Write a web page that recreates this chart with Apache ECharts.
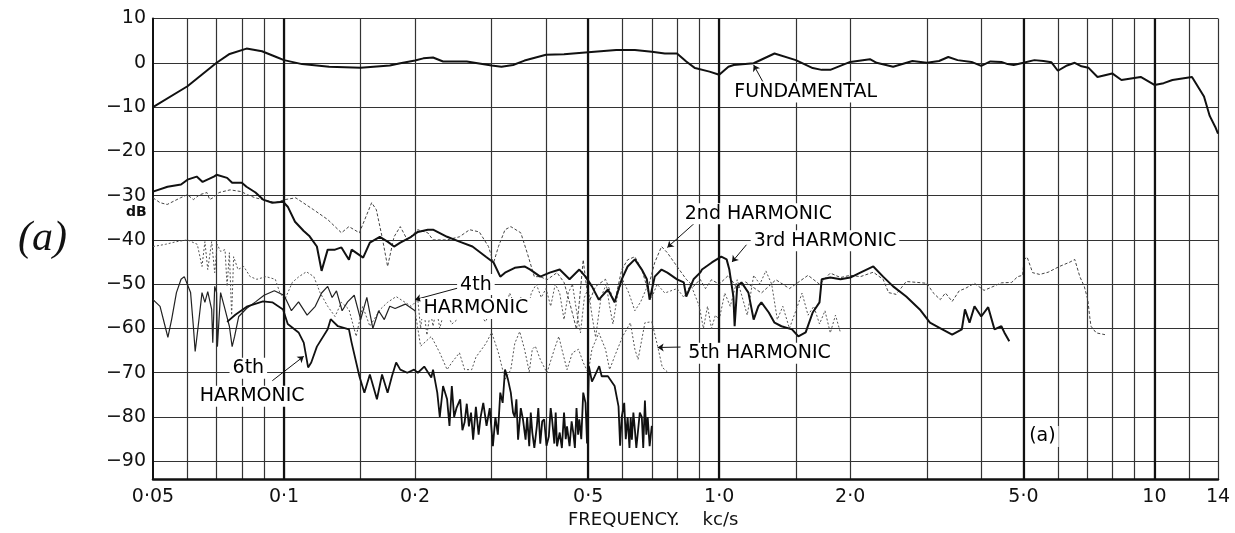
<!DOCTYPE html>
<html>
<head>
<meta charset="utf-8">
<script src="https://cdn.jsdelivr.net/npm/echarts@6/dist/echarts.min.js"></script>
<style>
html,body{margin:0;padding:0;background:#fff;}
#chart{width:1235px;height:533px;}
</style>
</head>
<body>
<div id="chart"></div>
<script>
// ---------- axis ticks ----------
const freqGrid = [0.06,0.07,0.08,0.09,0.1,0.15,0.2,0.3,0.4,0.5,0.6,0.7,0.8,0.9,1,1.5,2,3,4,5,6,7,8,9,10,12,14];
const freqHeavy = [0.1,0.5,1,5,10];
const freqLabels = [0.05,0.1,0.2,0.5,1,2,5,10,14];
const freqLabelText = ['0·05','0·1','0·2','0·5','1·0','2·0','5·0','10','14'];
const dbTicks = [10,0,-10,-20,-30,-40,-50,-60,-70,-80,-90];
const dbLabelText = ['10','0','−10','−20','−30','−40','−50','−60','−70','−80','−90'];

// ---------- series: [frequency kc/s, dB] ----------
const fundamental = [[0.05,-10],[0.06,-5.3],[0.07,0],[0.075,2],[0.082,3.2],[0.089,2.6],[0.096,1.3],[0.1,0.6],[0.11,-0.3],[0.127,-0.9],[0.15,-1.1],[0.175,-0.6],[0.185,-0.1],[0.2,0.5],[0.209,1],[0.22,1.2],[0.232,0.3],[0.263,0.3],[0.3,-0.6],[0.316,-0.9],[0.336,-0.5],[0.357,0.5],[0.4,1.8],[0.44,1.9],[0.5,2.4],[0.58,2.9],[0.64,2.9],[0.7,2.5],[0.75,2.1],[0.8,2.1],[0.84,0.3],[0.88,-1.2],[0.95,-2],[1.0,-2.7],[1.05,-0.9],[1.08,-0.5],[1.2,-0.1],[1.34,2.1],[1.5,0.6],[1.64,-1.2],[1.72,-1.6],[1.8,-1.6],[2.0,0.2],[2.22,0.8],[2.3,0],[2.51,-0.9],[2.78,0.4],[3.0,0],[3.2,0.4],[3.36,1.3],[3.53,0.6],[3.8,0.2],[4.0,-0.7],[4.2,0.3],[4.45,0.2],[4.6,-0.3],[4.75,-0.5],[5.0,0],[5.3,0.6],[5.56,0.4],[5.8,0.1],[6.0,-1.8],[6.3,-0.6],[6.56,0],[6.8,-0.8],[7.05,-1.1],[7.4,-3.2],[8.0,-2.4],[8.4,-3.9],[9.3,-3.2],[10,-5],[10.5,-4.6],[11,-3.9],[12.2,-3.2],[13,-7.6],[13.4,-12],[13.8,-14.5],[14,-16]];

const harmonic2 = [[0.05,-30.5],[0.0519,-31.6],[0.0539,-32],[0.0578,-30.5],[0.06,-29.8],[0.0619,-30.9],[0.064,-29.8],[0.0665,-29.3],[0.0675,-30.9],[0.0686,-30.5],[0.0709,-29.3],[0.0752,-28.7],[0.0798,-29.1],[0.0824,-29.8],[0.0859,-30.5],[0.0895,-30.9],[0.0955,-31.6],[0.1005,-30.9],[0.1064,-30.5],[0.117,-33.2],[0.126,-35.4],[0.1355,-38.4],[0.141,-37],[0.149,-38.4],[0.159,-31.6],[0.163,-33.2],[0.168,-39.3],[0.173,-46],[0.179,-39.3],[0.185,-37],[0.192,-40],[0.203,-37.7],[0.214,-38.4],[0.22,-40],[0.237,-40],[0.253,-39.3],[0.267,-37.7],[0.281,-38.2],[0.295,-41.5],[0.303,-45.2],[0.311,-41.5],[0.322,-37.7],[0.332,-37],[0.35,-38.4],[0.362,-42.9],[0.376,-48.3],[0.388,-48.3],[0.402,-49],[0.424,-47.4],[0.44,-49.6],[0.453,-54.1],[0.462,-57.3],[0.47,-60.2],[0.477,-54.1],[0.487,-44.5],[0.493,-48.9],[0.502,-54.1],[0.52,-50.5],[0.548,-48.9],[0.575,-54.1],[0.597,-46.7],[0.616,-44.5],[0.64,-43.8],[0.664,-46.7],[0.685,-51.2],[0.711,-45.1],[0.737,-41.5],[0.76,-42.9],[0.8,-46],[0.84,-48.9],[0.873,-50.5],[0.904,-48.9],[0.93,-51],[0.96,-49],[1.0,-50],[1.05,-48],[1.1,-51],[1.15,-49.5],[1.25,-52],[1.35,-49],[1.45,-51],[1.6,-48],[1.7,-50],[1.8,-47.5],[1.9,-48.5],[2.0,-48],[2.11,-48.3],[2.26,-47.3],[2.38,-48.9],[2.45,-51.9],[2.55,-52.3],[2.69,-49.4],[2.85,-49.6],[3.0,-49.8],[3.1,-51.9],[3.22,-53.5],[3.31,-52],[3.43,-53.9],[3.56,-51.5],[3.67,-51],[3.86,-49.8],[4.06,-51.4],[4.2,-50.8],[4.45,-49.7],[4.7,-49.6],[4.85,-48.3],[4.98,-48],[5.02,-44.4],[5.1,-43.9],[5.25,-47.4],[5.45,-47.8],[5.7,-47.3],[6.05,-46],[6.4,-45],[6.56,-44.4],[6.74,-48.3],[6.9,-50.5],[7.03,-53.5],[7.1,-57.3],[7.15,-59.5],[7.35,-61],[7.7,-61.4]];

const harmonic3 = [[0.05,-29.1],[0.054,-28],[0.058,-27.5],[0.06,-26.4],[0.063,-25.7],[0.065,-26.9],[0.069,-25.7],[0.07,-25.3],[0.074,-26],[0.076,-27.1],[0.08,-27.1],[0.082,-28],[0.086,-29.3],[0.0895,-30.9],[0.094,-31.6],[0.0995,-31.4],[0.102,-32.5],[0.106,-35.9],[0.111,-38],[0.1145,-39.2],[0.119,-41.5],[0.122,-47],[0.126,-42.2],[0.131,-42.2],[0.1355,-41.7],[0.141,-44.5],[0.143,-42.2],[0.152,-44],[0.1575,-40.6],[0.166,-39.3],[0.173,-40.4],[0.179,-41.5],[0.185,-40.6],[0.196,-39.3],[0.203,-38.2],[0.214,-37.7],[0.22,-37.7],[0.237,-39.3],[0.253,-40.4],[0.271,-41.5],[0.291,-43.8],[0.303,-45.1],[0.314,-48.3],[0.322,-47.4],[0.339,-46.3],[0.357,-46],[0.368,-46.7],[0.388,-48.3],[0.408,-47.4],[0.43,-46.7],[0.453,-48.9],[0.477,-46.7],[0.493,-48.3],[0.51,-50.5],[0.529,-53.5],[0.555,-51.2],[0.575,-54.1],[0.597,-48.9],[0.616,-46],[0.64,-44.4],[0.664,-46.7],[0.682,-48.9],[0.692,-53.5],[0.711,-48.3],[0.737,-46.7],[0.76,-47.4],[0.8,-48.9],[0.829,-49.6],[0.84,-52.8],[0.873,-48.9],[0.904,-47.4],[0.913,-46.7],[0.962,-45.1],[1.011,-43.8],[1.04,-44.4],[1.055,-46.7],[1.078,-52.8],[1.085,-59.5],[1.1,-50.5],[1.125,-49.6],[1.167,-51.9],[1.2,-58],[1.23,-55],[1.25,-54.1],[1.3,-56.4],[1.34,-58.7],[1.39,-59.5],[1.47,-60.2],[1.52,-61.8],[1.58,-60.9],[1.64,-56.4],[1.7,-54.1],[1.72,-48.9],[1.8,-48.5],[1.9,-48.9],[2.0,-48.5],[2.11,-47.4],[2.26,-46],[2.38,-48.3],[2.51,-50.5],[2.69,-52.8],[2.89,-55.7],[3.05,-58.7],[3.2,-59.8],[3.43,-61.4],[3.61,-60.2],[3.67,-55.7],[3.76,-58.7],[3.86,-55],[4.0,-57.3],[4.15,-55.2],[4.29,-60.2],[4.45,-59.5],[4.52,-60.9],[4.64,-62.9]];

const harmonic4 = [[0.05,-41.5],[0.0534,-41],[0.0566,-40.4],[0.06,-40],[0.0632,-41],[0.0648,-46],[0.0658,-40.4],[0.0668,-46.7],[0.0682,-40.4],[0.0693,-47.4],[0.0702,-41],[0.0715,-42.6],[0.0732,-42.2],[0.074,-50.5],[0.0749,-42.9],[0.0758,-57],[0.0766,-43.8],[0.0784,-46.7],[0.0808,-46],[0.0836,-48.3],[0.0866,-48.9],[0.0909,-48.3],[0.0955,-48.9],[0.0978,-51.9],[0.1004,-53.5],[0.1045,-49.6],[0.1082,-48.3],[0.1126,-47.2],[0.1171,-48.3],[0.121,-51.9],[0.126,-55],[0.131,-57.3],[0.1355,-54.1],[0.141,-55.7],[0.1465,-61.8],[0.1516,-55],[0.1575,-59.5],[0.1664,-55.7],[0.173,-54.1],[0.181,-52.8],[0.196,-55],[0.203,-53.5],[0.206,-60],[0.209,-55],[0.213,-61.5],[0.217,-56],[0.22,-59.5],[0.224,-55.5],[0.228,-60],[0.232,-57],[0.237,-56.5],[0.243,-59],[0.25,-58],[0.26,-55],[0.27,-57],[0.28,-56],[0.29,-58.5],[0.3,-56],[0.31,-54],[0.32,-57],[0.33,-52],[0.34,-55],[0.35,-53],[0.36,-58],[0.37,-52],[0.38,-50],[0.39,-53],[0.4,-51],[0.41,-55],[0.42,-50],[0.43,-52],[0.44,-58],[0.45,-52],[0.46,-50],[0.47,-56],[0.48,-61],[0.49,-53],[0.5,-51],[0.51,-57],[0.52,-62],[0.535,-53],[0.55,-50],[0.56,-55],[0.57,-59],[0.585,-52],[0.6,-49],[0.62,-52],[0.64,-56],[0.66,-54],[0.68,-51],[0.7,-53],[0.72,-50],[0.75,-52],[0.8,-51],[0.83,-53],[0.86,-50],[0.9,-55],[0.92,-60],[0.94,-55],[0.96,-60],[0.98,-57],[1.0,-58],[1.03,-52],[1.06,-55],[1.1,-49],[1.13,-53],[1.16,-57],[1.2,-48],[1.24,-50],[1.28,-47],[1.32,-50],[1.36,-58],[1.4,-55],[1.45,-60],[1.5,-56],[1.55,-52],[1.6,-57],[1.65,-55],[1.7,-59],[1.75,-56],[1.8,-61],[1.85,-57],[1.9,-61]];

const harmonic5Low = [[0.05,-53.5],[0.0519,-55],[0.0533,-59.5],[0.0541,-62],[0.0552,-57.9],[0.0566,-51.9],[0.058,-48.9],[0.059,-48.3],[0.061,-51.9],[0.0619,-59.5],[0.0625,-65.2],[0.0635,-59.5],[0.0648,-51.9],[0.0658,-54.1],[0.0668,-51.7],[0.0682,-55.7],[0.0686,-63.2],[0.0693,-50.5],[0.07,-51.9],[0.0703,-64.1],[0.0715,-51.9],[0.0732,-55.7],[0.0749,-59.5],[0.076,-64.1],[0.077,-61.8],[0.0787,-57.3],[0.082,-55.5],[0.086,-54],[0.09,-52.5],[0.095,-51.5],[0.1,-52.5],[0.104,-56],[0.108,-54],[0.113,-57],[0.118,-55],[0.122,-52],[0.126,-50.5],[0.129,-53],[0.132,-51.5],[0.136,-56],[0.14,-54],[0.145,-52.5],[0.15,-58],[0.155,-53],[0.16,-60],[0.165,-56],[0.17,-58],[0.175,-55],[0.18,-55.5],[0.19,-54.5],[0.2,-56]];

const harmonic5High = [[0.2,-56],[0.206,-64],[0.218,-61.8],[0.228,-65.5],[0.237,-69.3],[0.243,-67.7],[0.253,-65.5],[0.26,-69.3],[0.27,-69.3],[0.276,-66.5],[0.291,-63.4],[0.3,-60.9],[0.311,-65.5],[0.322,-71.5],[0.332,-69.3],[0.339,-63.4],[0.348,-60.7],[0.357,-64.7],[0.366,-69.8],[0.372,-64.7],[0.378,-64],[0.388,-67],[0.402,-70],[0.418,-64.7],[0.428,-61.8],[0.435,-64.7],[0.447,-69.3],[0.46,-65.5],[0.475,-64.7],[0.487,-67.7],[0.5,-70],[0.51,-64.7],[0.529,-61],[0.548,-64.7],[0.56,-69.3],[0.575,-66.3],[0.6,-61.8],[0.625,-58.7],[0.64,-64.7],[0.651,-67],[0.675,-58.7],[0.7,-58.5],[0.722,-64],[0.74,-68.8],[0.76,-69.8]];

const harmonic6 = [[0.074,-58.5],[0.0773,-56.9],[0.0824,-55],[0.0895,-53.9],[0.094,-54.1],[0.0995,-55.7],[0.102,-59],[0.108,-60.9],[0.111,-63.2],[0.1136,-68.8],[0.1155,-67.7],[0.119,-64.1],[0.126,-60.2],[0.128,-57.9],[0.133,-59.5],[0.141,-60.2],[0.143,-63.2],[0.149,-70.8],[0.153,-74.5],[0.1575,-70.4],[0.1635,-76],[0.168,-70.4],[0.173,-74.5],[0.177,-70.8],[0.181,-67.7],[0.185,-69.3],[0.192,-70],[0.199,-69.3],[0.203,-70],[0.21,-68.6],[0.218,-71.1],[0.22,-69.3],[0.225,-74.5],[0.228,-80],[0.232,-73],[0.237,-76],[0.24,-82],[0.243,-73],[0.246,-80],[0.249,-78],[0.254,-76],[0.257,-83],[0.26,-81.2],[0.263,-77],[0.266,-82.1],[0.269,-79],[0.272,-85.1],[0.276,-77.7],[0.28,-84],[0.283,-80],[0.287,-76.8],[0.292,-82],[0.297,-78],[0.302,-86.6],[0.306,-80],[0.31,-84],[0.314,-74.5],[0.318,-76.8],[0.322,-69.3],[0.327,-71.5],[0.332,-74.5],[0.336,-79],[0.339,-80],[0.342,-76],[0.345,-85.1],[0.35,-78],[0.354,-80.5],[0.359,-85.1],[0.362,-80],[0.366,-86.6],[0.369,-79],[0.372,-83.5],[0.376,-87],[0.381,-82.1],[0.384,-78],[0.388,-86],[0.392,-81],[0.396,-80.5],[0.401,-86.5],[0.406,-84.4],[0.41,-78],[0.413,-80.5],[0.418,-86],[0.421,-79],[0.424,-86.6],[0.43,-83.5],[0.435,-87],[0.44,-79],[0.444,-85],[0.447,-82.1],[0.453,-86.6],[0.458,-81],[0.462,-83.5],[0.466,-87],[0.47,-78],[0.474,-84],[0.477,-80.5],[0.482,-85],[0.487,-74.5],[0.493,-76.8],[0.497,-86],[0.502,-68.6],[0.51,-72],[0.517,-70.8],[0.53,-68.5],[0.537,-70.8],[0.555,-70.8],[0.575,-73],[0.587,-77.6],[0.592,-86.5],[0.597,-80],[0.605,-76.8],[0.61,-85],[0.616,-80],[0.622,-87],[0.626,-80],[0.63,-85.1],[0.635,-79],[0.64,-82.8],[0.645,-87],[0.651,-86.6],[0.657,-79],[0.664,-80],[0.669,-87],[0.675,-76.3],[0.68,-84],[0.685,-80],[0.692,-86.6],[0.7,-82]];

// ---------- annotations ----------
const noteText = ['FUNDAMENTAL','2nd HARMONIC','3rd HARMONIC','4th','HARMONIC','5th HARMONIC','6th','HARMONIC','(a)'];
const noteFreq = [1.58,1.23,1.75,0.276,0.276,1.238,0.0828,0.0845,5.53];
const noteDb = [-6.6,-34.1,-40.2,-50.1,-55.5,-65.6,-69,-75.3,-84.4];
const leaderFrom = [[1.26,-4.3],[0.885,-35.9],[1.155,-41.1],[0.257,-50.6],[0.815,-64.2],[0.094,-71.8]];
const leaderTo = [[1.2,-0.5],[0.76,-41.7],[1.07,-45],[0.2,-53.5],[0.722,-64.3],[0.111,-66.3]];

const FONT = '"DejaVu Sans", "Liberation Sans", sans-serif';

function nearestLabel(v, vals, txt) {
  let best = 0, bd = Infinity;
  vals.forEach((x, i) => { const d = Math.abs(Math.log(x) - Math.log(v)); if (d < bd) { bd = d; best = i; } });
  return txt[best];
}

function lineSeries(name, data, width, type, color) {
  return {
    name, type: 'line', data, showSymbol: false, symbol: 'none', silent: true,
    lineStyle: { width, type, color }, z: 3, animation: false
  };
}

const chart = echarts.init(document.getElementById('chart'), null, { renderer: 'canvas' });

const option = {
  animation: false,
  backgroundColor: '#fff',
  grid: { left: 153, right: 17, top: 18.5, bottom: 54, containLabel: false },
  xAxis: {
    type: 'log', logBase: 10, min: 0.05, max: 14,
    axisLine: { show: true, onZero: false, lineStyle: { color: '#111', width: 2.5 } },
    axisTick: { show: false, customValues: freqGrid },
    axisLabel: {
      customValues: freqLabels, margin: 9, fontSize: 19, color: '#111', fontFamily: FONT,
      formatter: v => nearestLabel(v, freqLabels, freqLabelText)
    },
    splitLine: { show: true, lineStyle: { color: '#333', width: 1.2 } },
    minorSplitLine: { show: false }
  },
  yAxis: {
    type: 'value', min: -94, max: 10,
    axisLine: { show: true, onZero: false, lineStyle: { color: '#111', width: 2 } },
    axisTick: { show: false, customValues: dbTicks },
    axisLabel: {
      customValues: dbTicks, margin: 7, fontSize: 19, color: '#111', fontFamily: FONT,
      formatter: v => dbLabelText[dbTicks.indexOf(Math.round(v))] || ''
    },
    splitLine: { show: true, lineStyle: { color: '#333', width: 1.2 } }
  },
  series: [
    {
      type: 'line', data: [], silent: true,
      markLine: {
        silent: true, symbol: 'none', label: { show: false },
        lineStyle: { color: '#111', width: 2.2, type: 'solid' },
        data: freqHeavy.map(f => ({ xAxis: f }))
      }
    },
    lineSeries('2nd HARMONIC', harmonic2, 1, [3, 2], '#444'),
    lineSeries('4th HARMONIC', harmonic4, 1, [2, 2], '#555'),
    lineSeries('5th HARMONIC', harmonic5Low, 1.2, 'solid', '#222'),
    lineSeries('5th HARMONIC', harmonic5High, 1, [2, 2], '#555'),
    lineSeries('6th HARMONIC', harmonic6, 1.8, 'solid', '#111'),
    lineSeries('3rd HARMONIC', harmonic3, 2, 'solid', '#111'),
    lineSeries('FUNDAMENTAL', fundamental, 2, 'solid', '#111'),
    {
      type: 'line', data: [], silent: true,
      markLine: {
        silent: true, symbol: ['none', 'arrow'], symbolSize: 6, label: { show: false },
        lineStyle: { color: '#111', width: 1, type: 'solid' },
        data: leaderFrom.map((p, i) => [{ coord: p }, { coord: leaderTo[i] }])
      }
    },
    {
      type: 'scatter', silent: true, symbolSize: 0, z: 5,
      itemStyle: { opacity: 1, color: '#111' },
      data: noteText.map((t, i) => ({ name: t, value: [noteFreq[i], noteDb[i]] })),
      label: {
        show: true, position: 'inside', formatter: p => p.name,
        fontFamily: FONT, fontSize: 19, color: '#000', opacity: 1,
        backgroundColor: '#fff', padding: [1, 3]
      }
    }
  ],
  graphic: [
    { type: 'text', left: 18, top: 218, style: { text: '(a)', font: 'italic 42px "Liberation Serif", serif', fill: '#111' } },
    { type: 'text', left: 126, top: 205, style: { text: 'dB', font: 'bold 14px ' + FONT, fill: '#111' } },
    { type: 'text', left: 568, top: 511, style: { text: 'FREQUENCY.    kc/s', font: '18px ' + FONT, fill: '#111' } }
  ]
};

chart.setOption(option);
</script>
</body>
</html>
